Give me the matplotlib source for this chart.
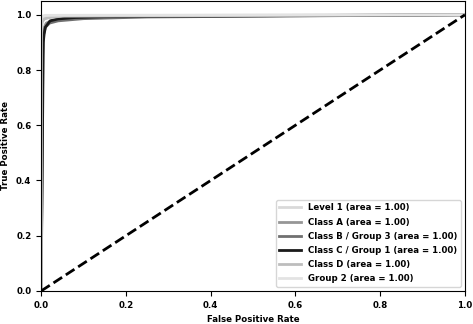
import numpy as np
import matplotlib.pyplot as plt

plt.rcParams['font.weight'] = 'bold'
plt.rcParams['axes.labelweight'] = 'bold'
plt.rcParams['font.size'] = 6.2

labels = ["Level 1", "Class A", "Class B / Group 3", "Class C / Group 1", "Class D", "Group 2"]
colors = ["#d9d9d9", "#969696", "#707070", "#1a1a1a", "#bdbdbd", "#e3e3e3"]
aucs = [1.00, 1.00, 1.00, 1.00, 1.00, 1.00]

fpr = [
    [0.0, 0.0, 0.002, 0.006, 0.015, 0.04, 0.1, 1.0],
    [0.0, 0.003, 0.003, 0.006, 0.012, 0.03, 0.08, 0.2, 1.0],
    [0.0, 0.004, 0.006, 0.01, 0.02, 0.04, 0.1, 0.25, 1.0],
    [0.0, 0.005, 0.007, 0.01, 0.021, 0.04, 0.08, 0.15, 0.3, 1.0],
    [0.0, 0.0, 0.003, 0.008, 0.02, 0.05, 1.0],
    [0.0, 0.0, 0.002, 0.01, 1.0],
]
tpr = [
    [0.0, 0.96, 0.985, 0.99, 0.993, 0.995, 0.997, 1.0],
    [0.0, 0.70, 0.9, 0.95, 0.97, 0.98, 0.988, 0.993, 1.0],
    [0.0, 0.85, 0.93, 0.955, 0.97, 0.978, 0.986, 0.992, 1.0],
    [0.0, 0.9, 0.93, 0.955, 0.978, 0.985, 0.99, 0.993, 0.995, 1.0],
    [0.0, 0.95, 0.975, 0.985, 0.99, 0.995, 1.0],
    [0.0, 0.98, 0.995, 0.998, 1.0],
]

fig = plt.figure(figsize=(4.73, 3.24), dpi=100)
ax = fig.add_axes([0.087, 0.102, 0.896, 0.895])

for f, t, c, lab, a in zip(fpr, tpr, colors, labels, aucs):
    ax.plot(f, t, color=c, lw=2, label=f"{lab} (area = {a:.2f})")

ax.plot([0, 1], [0, 1], 'k--', lw=2)
ax.set_xlim([0.0, 1.0])
ax.set_ylim([0.0, 1.05])
ax.set_xlabel("False Positive Rate")
ax.set_ylabel("True Positive Rate")
ax.legend(loc="lower right", handlelength=2.5, labelspacing=0.6)

fig.savefig("out.png", dpi=100)
